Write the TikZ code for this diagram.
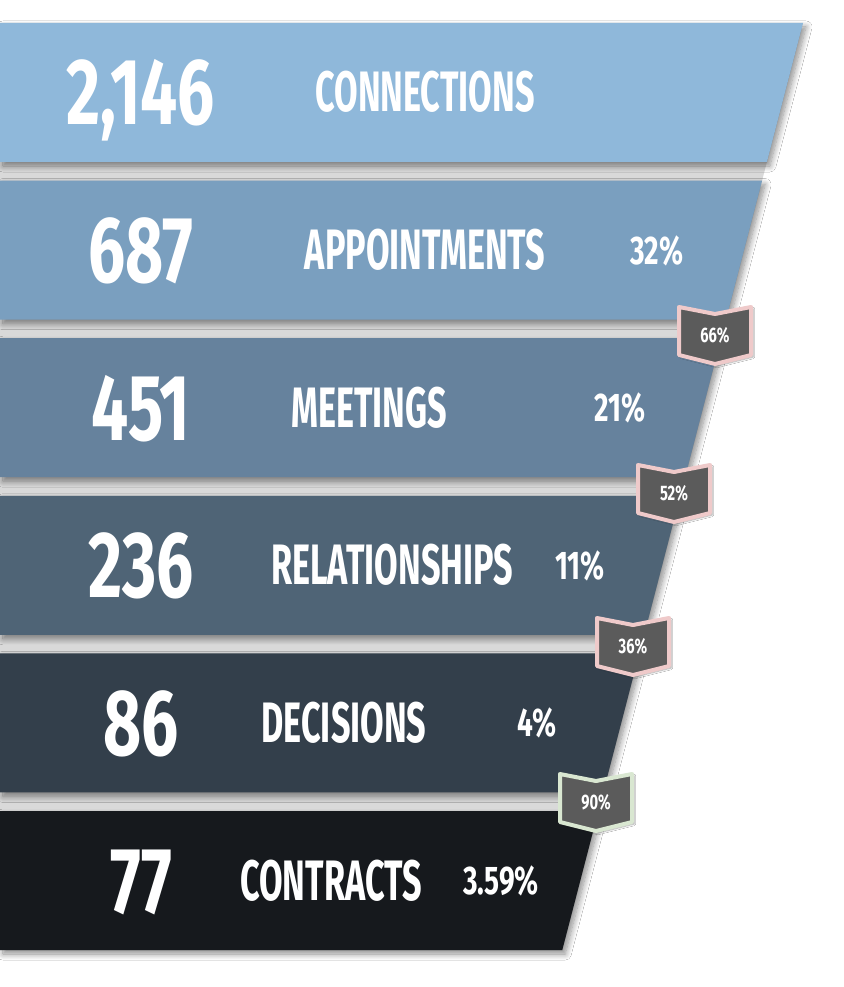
\documentclass[tikz,border=0pt]{standalone}
\usepackage{fontspec}
\newfontfamily\stagefont[FakeStretch=0.6]{Fira Sans}
\newfontfamily\numfont[FakeStretch=0.7]{Fira Sans}
\usetikzlibrary{shadows.blur}
\definecolor{bandA}{HTML}{8FB8DA}
\definecolor{bandB}{HTML}{7A9FBF}
\definecolor{bandC}{HTML}{66829D}
\definecolor{bandD}{HTML}{4F6476}
\definecolor{bandE}{HTML}{333F4B}
\definecolor{bandF}{HTML}{16191D}
\definecolor{gapgray}{HTML}{D9D9D9}
\definecolor{badgefill}{HTML}{5B5B5B}
\definecolor{rimpink}{HTML}{EFCACA}
\definecolor{rimgreen}{HTML}{D9E7D1}
\begin{document}
\begin{tikzpicture}[x=1pt,y=-1pt,
  band/.style={blur shadow={shadow xshift=3pt,shadow yshift=-4pt,shadow blur steps=10,shadow blur radius=6pt,shadow opacity=45}},
  bignum/.style={text=white,anchor=base,inner sep=0pt,font=\numfont\bfseries\fontsize{94}{94}\selectfont},
  stagename/.style={text=white,anchor=base,inner sep=0pt,font=\stagefont\bfseries\fontsize{57}{57}\selectfont},
  pctnum/.style={text=white,anchor=base,inner sep=0pt,font=\numfont\bfseries\fontsize{40}{40}\selectfont},
  badge/.style={fill=badgefill,line width=4pt,line join=round,blur shadow={shadow xshift=2pt,shadow yshift=-2pt,shadow blur steps=6,shadow opacity=35}},
  badgetxt/.style={text=white,anchor=base,inner sep=0pt,font=\numfont\bfseries\fontsize{21}{21}\selectfont}]
\useasboundingbox[fill=white] (0,0) rectangle (843,987);
% gray strip seen between the bands
\fill[gapgray] (0,23) -- (803,23) -- (562.3,950) -- (0,950) -- cycle;
% the six bands of the funnel
\foreach \i/\col in {0/bandA,1/bandB,2/bandC,3/bandD,4/bandE,5/bandF}{
  \pgfmathsetmacro\ta{23+157.6*\i}
  \pgfmathsetmacro\tb{\ta+139}
  \fill[band,\col] (0,\ta) -- ({803-0.2597*(\ta-23)},\ta) -- ({803-0.2597*(\tb-23)},\tb) -- (0,\tb) -- cycle;
}
% counts and stage names
\foreach \i/\num/\stage/\sx in {0/{2,146}/CONNECTIONS/425,1/687/APPOINTMENTS/425,2/451/MEETINGS/369,
    3/236/RELATIONSHIPS/392,4/86/DECISIONS/344,5/77/CONTRACTS/331}{
  \pgfmathsetmacro\cy{92.5+157.6*\i}
  \node[bignum] (num\i) at (141,\cy+32.5) {\num};
  \node[stagename] (stage\i) at (\sx,\cy+19.5) {\stage};
}
% share of all connections
\foreach \i/\pct/\px in {1/32\%/657,2/21\%/620,3/11\%/580,4/4\%/537,5/3.59\%/501}{
  \pgfmathsetmacro\cy{92.5+157.6*\i}
  \node[pctnum] (pct\i) at (\px,\cy+14) {\pct};
}
% step-to-step badges
\foreach \i/\bx/\by/\rim/\val in {1/715/335/rimpink/66,2/674/493/rimpink/52,3/633/646/rimpink/36,4/596/802/rimgreen/90}{
  \draw[badge,draw=\rim,shift={(\bx,\by)}] (-36,-28) -- (0,-21) -- (36,-28) -- (36,20) -- (0,29) -- (-36,20) -- cycle;
  \node[badgetxt] (badge\i) at (\bx,\by+7.5) {\val\%};
}
\end{tikzpicture}
\end{document}
